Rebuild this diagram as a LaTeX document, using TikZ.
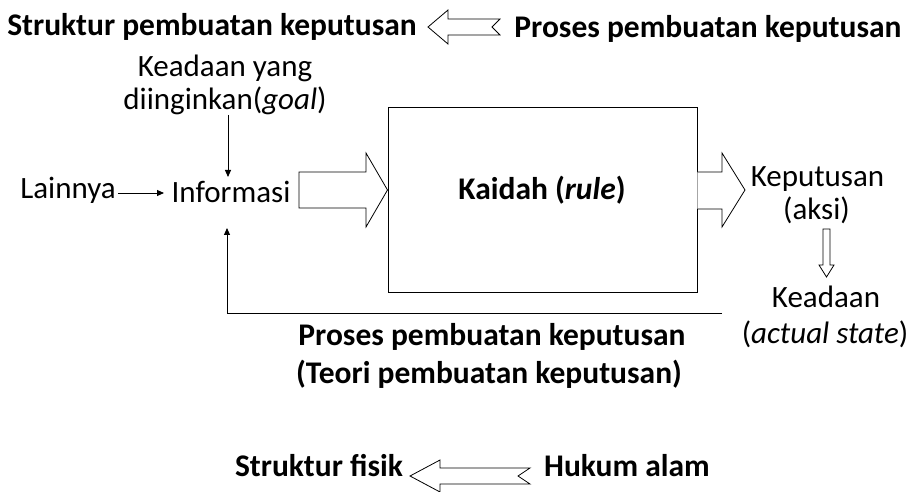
\documentclass[tikz,border=0pt]{standalone}
\usepackage{fontspec}
\setmainfont{Carlito}
\usetikzlibrary{arrows.meta}
\begin{document}
\begin{tikzpicture}[x=1pt,y=-1pt,
  txt/.style={font=\fontsize{31}{37}\selectfont, inner sep=0pt, anchor=base},
  btxt/.style={font=\fontsize{31.5}{41}\selectfont\bfseries, inner sep=0pt, anchor=base},
  blk/.style={draw=black, line width=0.8pt, fill=white, line join=miter},
  con/.style={line width=0.9pt, -{Triangle[length=7pt,width=6pt]}}]
\path[use as bounding box] (0,0) rectangle (914,492);

% headings
\node[btxt] (s1) at (212,36) {Struktur pembuatan keputusan};
\node[btxt] (p1) at (708,38) {Proses pembuatan keputusan};
\draw[blk] (428,27) -- (448,10) -- (448,19) -- (500,19) -- (492,27)
  -- (500,35) -- (448,35) -- (448,44) -- cycle;

% decision process
\node[txt] (goal1) at (225,77) {Keadaan yang};
\node[txt] (goal2) at (225,110) {diinginkan(\textit{goal})};
\node[txt] (lain) at (68,199) {Lainnya};
\node[txt] (info) at (231,203) {Informasi};
\node[draw, line width=0.8pt, minimum width=309pt, minimum height=185pt,
  inner sep=0pt] (rule) at (542.5,199.5) {};
\node[btxt] (kaidah) at (542,200) {Kaidah (\textit{rule})};
\node[txt] (kep1) at (817.5,187) {Keputusan};
\node[txt] (kep2) at (816.5,220) {(aksi)};
\node[txt] (kead1) at (826,307) {Keadaan};
\node[txt] (kead2) at (825,343) {(\textit{actual state})};
\node[btxt] (proses1) at (492,345) {Proses pembuatan keputusan};
\node[btxt] (proses2) at (489,383) {(Teori pembuatan keputusan)};

% thin connectors
\coordinate (g1) at (228,115);
\coordinate (g2) at (228,177);
\draw[con] (g1) -- (g2);
\coordinate (l1) at (118,193);
\coordinate (l2) at (164,193);
\draw[con] (l1) -- (l2);
\coordinate (fbR) at (722,313);
\coordinate (fbL) at (227,313);
\coordinate (fbT) at (227,228);
\draw[con] (fbR) -- (fbL) -- (fbT);

% block arrows
\draw[blk] (299,172) -- (366,172) -- (366,153) -- (387.5,190) -- (366,227)
  -- (366,208) -- (299,208) -- cycle;
\draw[blk] (rule.east |- 0,172) -- (722,172) -- (722,153) -- (745,190)
  -- (722,227) -- (722,209) -- (rule.east |- 0,209);
\draw[blk] (823,229) -- (830,229) -- (830,265) -- (834,265) -- (826.5,277)
  -- (819,265) -- (823,265) -- cycle;

% bottom line
\node[btxt] (sf) at (319,476) {Struktur fisik};
\node[btxt] (hk) at (627,476) {Hukum alam};
\draw[blk] (410,476) -- (440,460) -- (440,468) -- (530,468) -- (518,476)
  -- (530,484) -- (440,484) -- (440,492) -- cycle;
\end{tikzpicture}
\end{document}
